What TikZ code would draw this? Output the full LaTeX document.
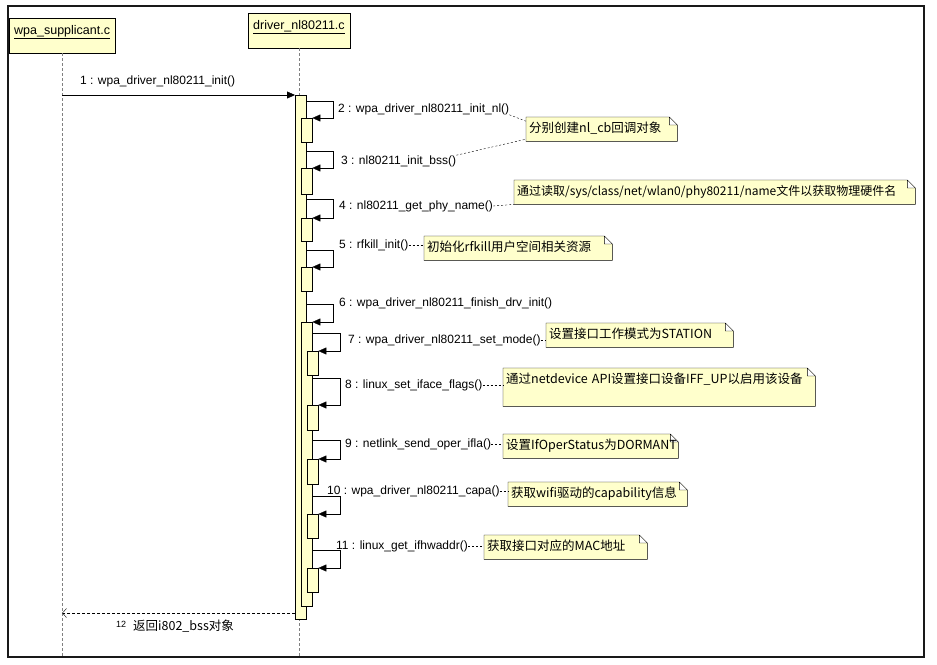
\documentclass[tikz,border=0pt]{standalone}
\usepackage{fontspec}
\setmainfont{Liberation Sans}
\newfontfamily\cjk{Noto Sans CJK SC}
\usetikzlibrary{arrows.meta,backgrounds}

\definecolor{umlyellow}{RGB}{255,255,204}

\tikzset{
  head/.style={draw, fill=umlyellow, anchor=north west, align=left,
    inner xsep=5pt, inner ysep=6pt, text height=10pt, text depth=13pt,
    font=\fontsize{12.5}{15}\selectfont},
  lifeline/.style={gray, dash pattern=on 3pt off 2pt},
  act/.style={draw, fill=umlyellow, anchor=north west, inner sep=0pt,
    minimum width=11pt},
  call/.style={-{Triangle[length=8pt,width=7pt]}},
  ret/.style={dash pattern=on 3pt off 2pt,
    -{Straight Barb[length=4pt,width=9pt]}},
  msg/.style={anchor=west, inner sep=0pt, font=\fontsize{12}{14}\selectfont},
  note/.style={anchor=north west, align=left, inner xsep=3pt, inner ysep=6pt,
    text height=9pt, text depth=3pt, font=\cjk\fontsize{12.5}{15}\selectfont},
  link/.style={dash pattern=on 2pt off 2pt},
}

\begin{document}
\begin{tikzpicture}[x=1pt, y=-1pt]
  \useasboundingbox (0,0) rectangle (937,664);

  % lifelines
  \node [head, text width=96pt] (wpa) at (9,18) {\underline{wpa\_supplicant.c}};
  \node [head, text width=92pt] (driver) at (248,13) {\underline{driver\_nl80211.c}};
  \coordinate (bottom) at (0,657);
  \draw [lifeline] (wpa.south) -- (wpa.south |- bottom);
  \draw [lifeline] (driver.south) -- (driver.south |- bottom);

  % activations and calls
  \node [act, minimum height=524pt] (act0) at (295,95) {};
  \draw [call] (wpa.south |- act0.north) -- (act0.north west);

  \foreach \n/\t/\b/\e in {2/101/118/142, 3/151/168/194, 4/199/218/241, 5/250/267/291} {
    \node [act, minimum height={(\e-\b)*1pt}] (a\n) at (301,\b) {};
    \draw [call] (act0.east |- 0,\t) -- ++(27,0) |- (a\n.north east);
  }

  \node [act, minimum height=284pt] (a6) at (301,322) {};
  \draw [call] (act0.east |- 0,304) -- ++(27,0) |- (a6.north east);

  \foreach \n/\t/\b/\e in {7/333/351/375, 8/378/405/430, 9/440/459/484, 10/496/514/538, 11/550/568/592} {
    \node [act, minimum height={(\e-\b)*1pt}] (a\n) at (307,\b) {};
    \draw [call] (a6.east |- 0,\t) -- ++(28,0) |- (a\n.north east);
  }

  \draw [ret] (act0.west |- 0,613) -- (wpa.south |- 0,613);

  % message labels
  \node [msg] (m1) at (80,81) {1 : wpa\_driver\_nl80211\_init()};
  \node [msg] (m2) at (338,109) {2 : wpa\_driver\_nl80211\_init\_nl()};
  \node [msg] (m3) at (341,161) {3 : nl80211\_init\_bss()};
  \node [msg] (m4) at (339,206) {4 : nl80211\_get\_phy\_name()};
  \node [msg] (m5) at (339,245) {5 : rfkill\_init()};
  \node [msg] (m6) at (339,303) {6 : wpa\_driver\_nl80211\_finish\_drv\_init()};
  \node [msg] (m7) at (348,340) {7 : wpa\_driver\_nl80211\_set\_mode()};
  \node [msg] (m8) at (345,385) {8 : linux\_set\_iface\_flags()};
  \node [msg] (m9) at (345,444) {9 : netlink\_send\_oper\_ifla()};
  \node [msg] (m10) at (327,491) {10 : wpa\_driver\_nl80211\_capa()};
  \node [msg] (m11) at (336,546) {11 : linux\_get\_ifhwaddr()};
  \node [msg, font=\fontsize{9}{11}\selectfont] (m12 num) at (116,624) {12};
  \node [msg, font=\cjk\fontsize{12.5}{15}\selectfont] (m12) at (133,626) {返回i802\_bss对象};

  % notes
  \node [note, text width=145pt] (n2) at (526,117) {分别创建nl\_cb回调对象};
  \node [note, text width=395pt, font=\cjk\fontsize{12}{15}\selectfont] (n4) at (514,180)
    {通过读取/sys/class/net/wlan0/phy80211/name文件以获取物理硬件名};
  \node [note, text width=182pt] (n5) at (424,236) {初始化rfkill用户空间相关资源};
  \node [note, text width=181pt] (n7) at (546,323) {设置接口工作模式为STATION};
  \node [note, text width=306pt, text depth=17pt] (n8) at (503,368)
    {通过netdevice~API设置接口设备IFF\_UP以启用该设备};
  \node [note, text width=169pt] (n9) at (503,434) {设置IfOperStatus为DORMANT};
  \node [note, text width=173pt] (n10) at (508,482) {获取wifi驱动的capability信息};
  \node [note, text width=157pt] (n11) at (484,535) {获取接口对应的MAC地址};

  \begin{scope}[on background layer]
    \foreach \n in {n2,n4,n5,n7,n8,n9,n10,n11}
      \draw [fill=umlyellow]
        (\n.north west) -- ([xshift=-8pt]\n.north east)
        -- ([yshift=-8pt]\n.north east) -- (\n.south east)
        -- (\n.south west) -- cycle
        ([xshift=-8pt]\n.north east) -- ([xshift=-8pt,yshift=-8pt]\n.north east)
        -- ([yshift=-8pt]\n.north east)
      ;
  \end{scope}

  \draw [link] (m2.south east) -- ([yshift=8pt]n2.west);
  \draw [link] (m3.north east) -- ([yshift=-10pt]n2.west);
  \draw [link] (m4.east) -- (n4.south west);
  \foreach \n in {5,7,8,9,10,11}
    \draw [link] (m\n.east) -- (m\n.east -| n\n.west);

  \draw [line width=2pt, black!90] (8,6) rectangle (924,657);
\end{tikzpicture}
\end{document}
